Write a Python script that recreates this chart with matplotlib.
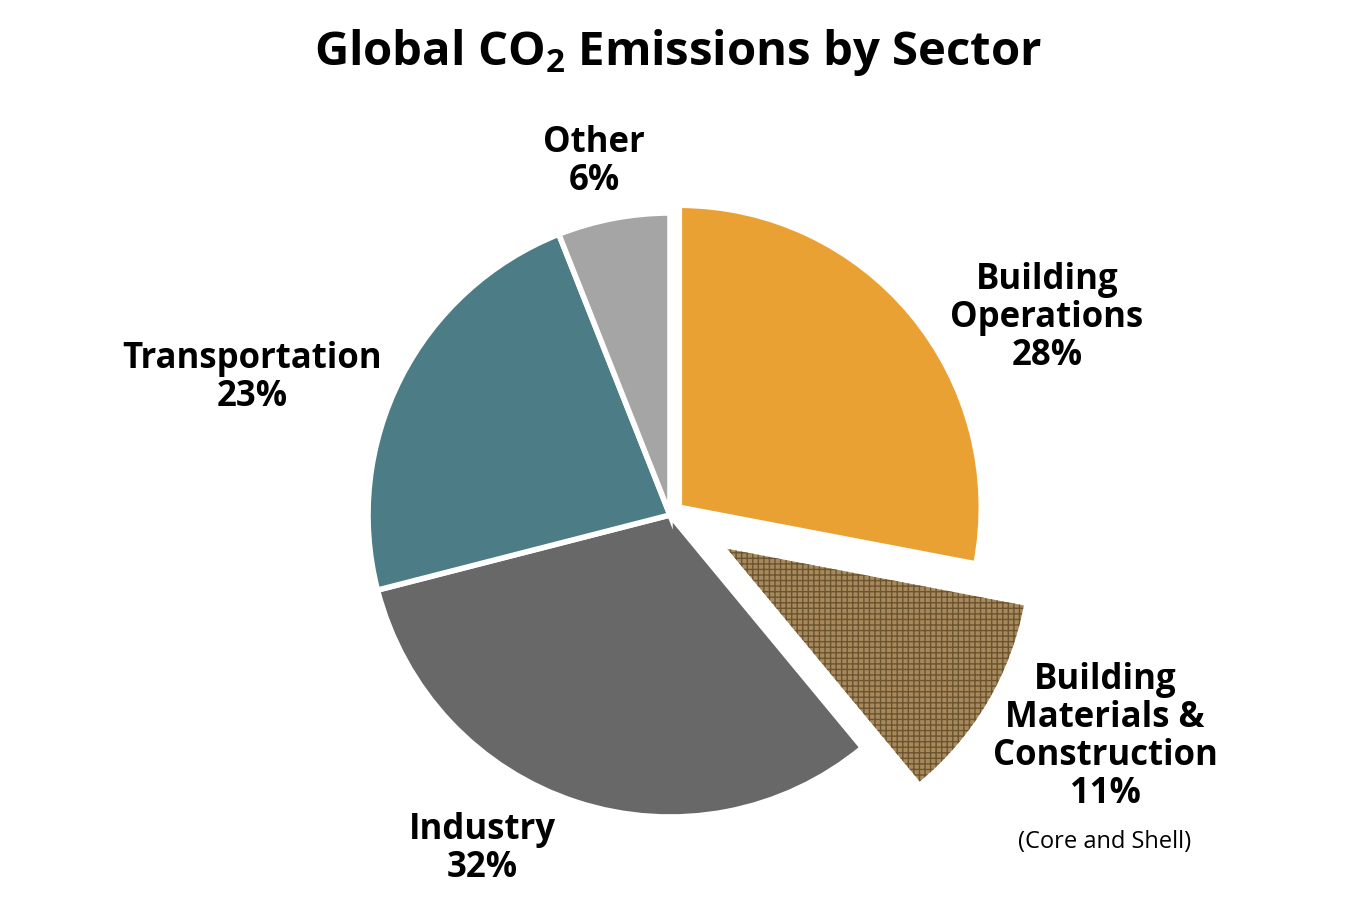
import matplotlib.pyplot as plt

# sector shares (%), clockwise from 12 o'clock
sectors = ['Building Operations', 'Building Materials & Construction',
           'Industry', 'Transportation', 'Other']
shares = [28, 11, 32, 23, 6]
colors = ['#E9A134', '#A8895C', '#686868', '#4C7C86', '#A5A5A5']
explode = [0.04, 0.22, 0, 0, 0]

labels = ['Building\nOperations\n28%',
          'Building\nMaterials &\nConstruction\n11%',
          'Industry\n32%',
          'Transportation\n23%',
          'Other\n6%']
# label centres in pixels (x, y from top)
label_pos = [(1047, 318), (1105, 737), (482, 849), (252, 378), (594, 162)]

W, H = 1372, 900
plt.rcParams['font.family'] = ['Open Sans', 'DejaVu Sans']
plt.rcParams['mathtext.fontset'] = 'custom'
plt.rcParams['mathtext.rm'] = 'Open Sans'
plt.rcParams['mathtext.bf'] = 'Open Sans:bold'
plt.rcParams['hatch.linewidth'] = 1.0

fig = plt.figure(figsize=(W / 100, H / 100), dpi=100)
cx, cy, r = 670, 515, 302
ax = fig.add_axes([(cx - r) / W, (H - cy - r) / H, 2 * r / W, 2 * r / H])
wedges, _ = ax.pie(shares, colors=colors, explode=explode, startangle=90,
                   counterclock=False, radius=1,
                   wedgeprops=dict(edgecolor='white', linewidth=4))
ax.set_xlim(-1, 1)
ax.set_ylim(-1, 1)
ax.axis('off')
for w in wedges:
    w.set_clip_on(False)

# brick-like texture on the materials slice
mat = wedges[1]
mat.set_edgecolor('#6B5430')
mat.set_linewidth(0)
mat.set_hatch('+++')

for lab, (x, y) in zip(labels, label_pos):
    fig.text(x / W, 1 - y / H, lab, ha='center', va='center',
             fontsize=25, fontweight='bold', linespacing=1.08)
fig.text(1105 / W, 1 - 842 / H, '(Core and Shell)', ha='center', va='center',
         fontsize=17)

fig.text(678 / W, 1 - 52 / H, 'Global CO$_\\mathbf{2}$ Emissions by Sector',
         ha='center', va='center', fontsize=34, fontweight='bold')

fig.savefig('out.png', dpi=100, facecolor='white')
